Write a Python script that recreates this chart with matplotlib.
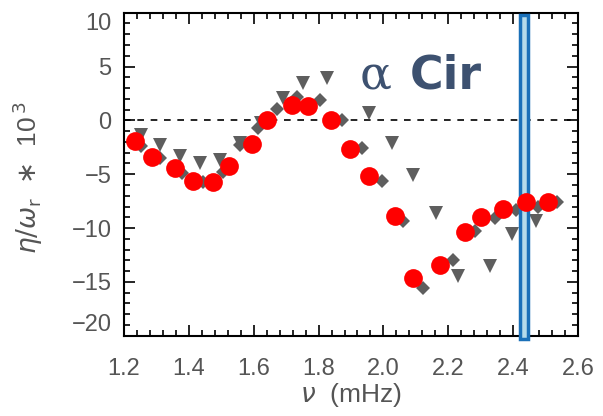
import matplotlib
matplotlib.use('Agg')
import matplotlib.pyplot as plt
from matplotlib.patches import Rectangle
from matplotlib.ticker import MultipleLocator

# frequencies (mHz) and eta/omega_r * 1e3
NU_CIRC = [1.233, 1.287, 1.358, 1.414, 1.475, 1.523, 1.596, 1.642, 1.718, 1.768,
           1.839, 1.897, 1.956, 2.035, 2.090, 2.174, 2.251, 2.301, 2.370, 2.439,
           2.507]
ETA_CIRC = [-1.9, -3.4, -4.4, -5.6, -5.7, -4.2, -2.2, 0.0, 1.4, 1.3,
            0.0, -2.7, -5.2, -8.9, -14.6, -13.4, -10.4, -9.0, -8.2, -7.6,
            -7.6]

NU_DIAM = [1.252, 1.311, 1.378, 1.444, 1.505, 1.557, 1.614, 1.671, 1.733, 1.804,
           1.871, 1.933, 1.995, 2.061, 2.123, 2.215, 2.282, 2.344, 2.409, 2.478,
           2.534]
ETA_DIAM = [-2.4, -3.5, -4.9, -5.7, -4.8, -2.3, -0.7, 1.1, 2.2, 1.9,
            0.0, -2.6, -5.6, -9.3, -15.6, -13.0, -10.3, -9.1, -8.3, -8.0,
            -7.6]

NU_TRI = [1.251, 1.311, 1.373, 1.434, 1.496, 1.558, 1.622, 1.690, 1.753, 1.825,
          1.956, 2.025, 2.092, 2.162, 2.231, 2.329, 2.397, 2.470]
ETA_TRI = [-1.35, -2.3, -3.35, -4.0, -3.7, -2.1, -0.2, 2.1, 3.5, 3.9,
           0.7, -2.1, -5.1, -8.6, -14.5, -13.5, -10.6, -9.3]

# highlighted frequency band
BAND = [2.42, 2.445]

GREY = '#5e5e5e'
TXT = '#555555'
NAVY = '#3d5170'

fig = plt.figure(figsize=(6.03, 4.16), dpi=100)
ax = fig.add_axes([0.2056, 0.193, 0.753, 0.7765])

ax.axhline(0, color='black', lw=1.2, ls=(0, (4, 4)), zorder=1)
ax.plot(NU_TRI, ETA_TRI, 'v', color=GREY, ms=9.5, mew=0, zorder=2)
ax.plot(NU_DIAM, ETA_DIAM, 'D', color=GREY, ms=7.5, mew=0, zorder=2)
ax.add_patch(Rectangle((BAND[0], -20.3), BAND[1] - BAND[0], 30.1,
                       facecolor='#b5dbea', edgecolor='#1a70b8', lw=2.5,
                       clip_on=False, zorder=3))
ax.plot(NU_CIRC, ETA_CIRC, 'o', color='#ff0000', ms=13.5, mew=0, zorder=4)

ax.set_xlim(1.2, 2.6)
ax.set_ylim(-20, 10)
ax.xaxis.set_minor_locator(MultipleLocator(0.04))
ax.yaxis.set_minor_locator(MultipleLocator(1))
ax.tick_params(which='both', direction='in', top=True, right=True,
               width=1.2, color='black')
ax.tick_params(which='major', length=8)
ax.tick_params(which='minor', length=4.5)
ax.tick_params(axis='x', labelsize=17, labelcolor=TXT, pad=16)
ax.tick_params(axis='y', labelsize=17, labelcolor=TXT, pad=9)
ax.set_xticks([1.2, 1.4, 1.6, 1.8, 2.0, 2.2, 2.4, 2.6])
ax.set_xticklabels(['1.2', '1.4', '1.6', '1.8', '2.0', '2.2', '2.4', '2.6'],
                   family='Liberation Sans')
ax.set_yticks([-20, -15, -10, -5, 0, 5, 10])
ylabs = ax.set_yticklabels(['\u221220', '\u221215', '\u221210', '\u22125',
                            '0', '5', '10'], family='Liberation Sans')
ylabs[0].set_va('bottom')
ylabs[-1].set_va('top')
for s in ax.spines.values():
    s.set_linewidth(1.5)

ax.set_xlabel(r'$\nu$  (mHz)', fontsize=19, color=TXT, family='Liberation Sans',
              labelpad=1)
ax.set_ylabel(r'$\eta/\omega_{\rm r}$  $\ast$  10$^{\,3}$', fontsize=19,
              color=TXT, family='Liberation Sans')
ax.yaxis.set_label_coords(-0.175, 0.49)

ax.text(1.975, 3.0, '\u03b1', fontsize=34, color=NAVY,
        family='DejaVu Serif', ha='center', va='baseline')
ax.text(2.08, 3.0, 'Cir', fontsize=33, color=NAVY, weight='bold',
        family='DejaVu Sans', ha='left', va='baseline')

fig.savefig('out.png', dpi=100)
